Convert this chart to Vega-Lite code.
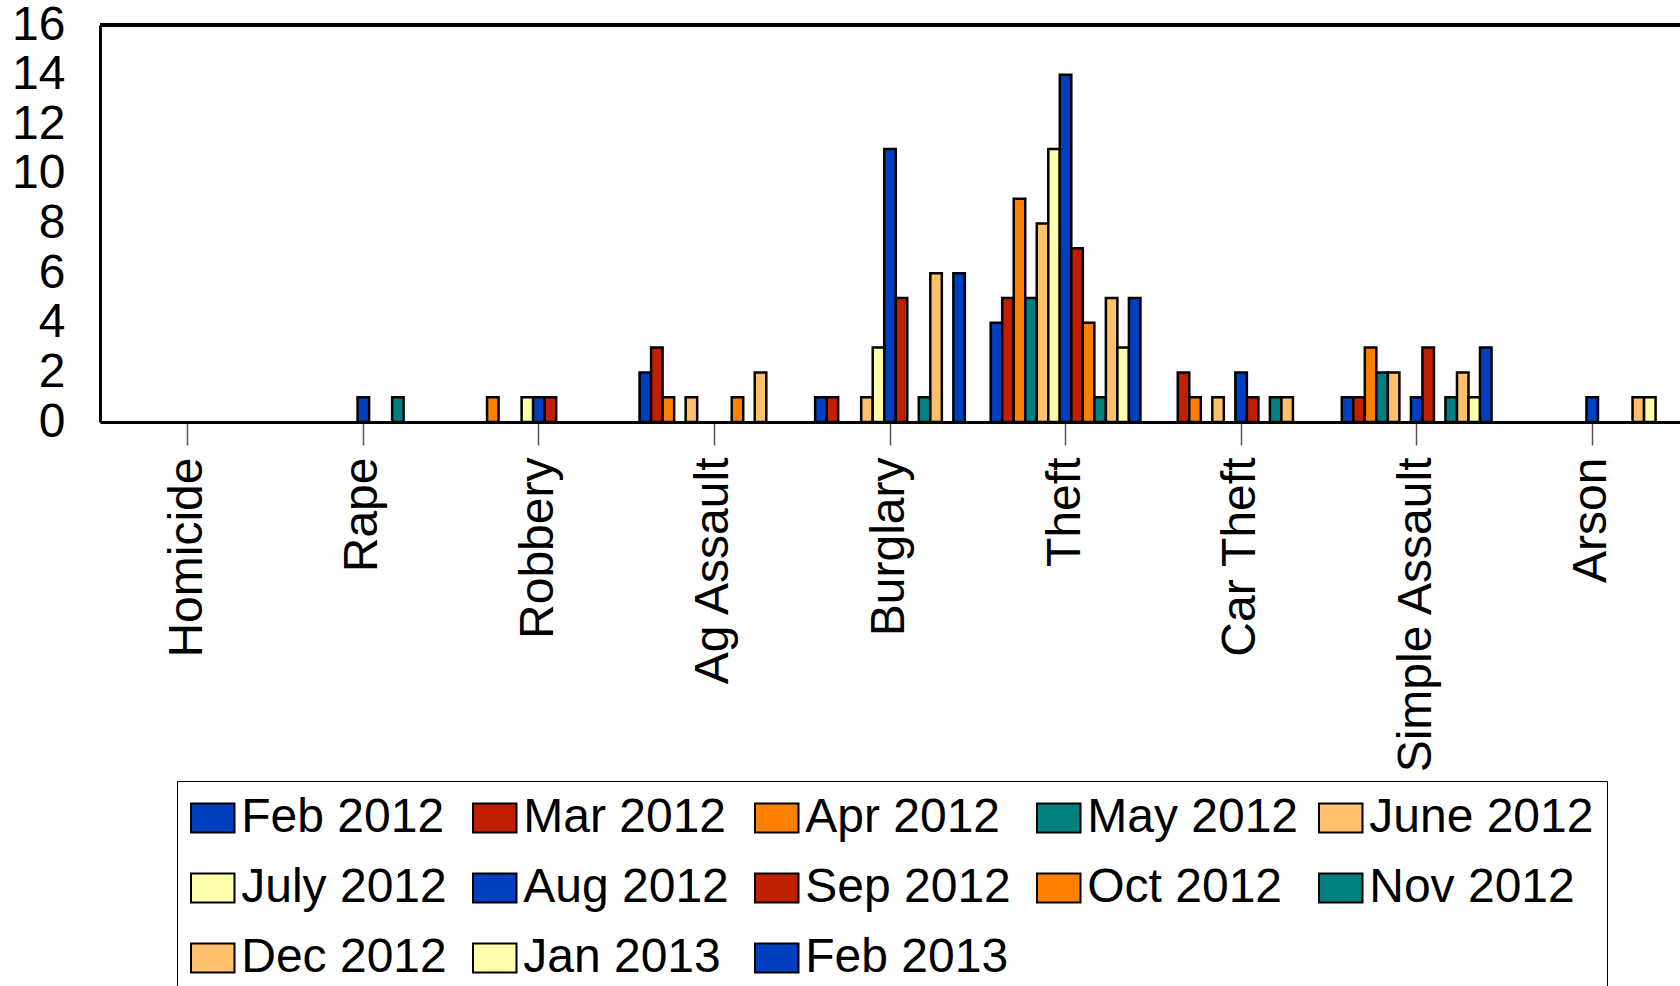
{
  "$schema": "https://vega.github.io/schema/vega-lite/v6.json",
  "width": 1580,
  "height": 397,
  "autosize": {"type": "none"},
  "padding": {"left": 100, "top": 25, "right": 0, "bottom": 564},
  "config": {
    "font": "Liberation Sans",
    "view": {"stroke": null},
    "axis": {"labelColor": "black", "grid": false}
  },
  "data": {
    "values": [
      {"crime": "Rape", "month": "Aug 2012", "count": 1},
      {"crime": "Rape", "month": "Nov 2012", "count": 1},
      {"crime": "Robbery", "month": "Apr 2012", "count": 1},
      {"crime": "Robbery", "month": "July 2012", "count": 1},
      {"crime": "Robbery", "month": "Aug 2012", "count": 1},
      {"crime": "Robbery", "month": "Sep 2012", "count": 1},
      {"crime": "Ag Assault", "month": "Feb 2012", "count": 2},
      {"crime": "Ag Assault", "month": "Mar 2012", "count": 3},
      {"crime": "Ag Assault", "month": "Apr 2012", "count": 1},
      {"crime": "Ag Assault", "month": "June 2012", "count": 1},
      {"crime": "Ag Assault", "month": "Oct 2012", "count": 1},
      {"crime": "Ag Assault", "month": "Dec 2012", "count": 2},
      {"crime": "Burglary", "month": "Feb 2012", "count": 1},
      {"crime": "Burglary", "month": "Mar 2012", "count": 1},
      {"crime": "Burglary", "month": "June 2012", "count": 1},
      {"crime": "Burglary", "month": "July 2012", "count": 3},
      {"crime": "Burglary", "month": "Aug 2012", "count": 11},
      {"crime": "Burglary", "month": "Sep 2012", "count": 5},
      {"crime": "Burglary", "month": "Nov 2012", "count": 1},
      {"crime": "Burglary", "month": "Dec 2012", "count": 6},
      {"crime": "Burglary", "month": "Feb 2013", "count": 6},
      {"crime": "Theft", "month": "Feb 2012", "count": 4},
      {"crime": "Theft", "month": "Mar 2012", "count": 5},
      {"crime": "Theft", "month": "Apr 2012", "count": 9},
      {"crime": "Theft", "month": "May 2012", "count": 5},
      {"crime": "Theft", "month": "June 2012", "count": 8},
      {"crime": "Theft", "month": "July 2012", "count": 11},
      {"crime": "Theft", "month": "Aug 2012", "count": 14},
      {"crime": "Theft", "month": "Sep 2012", "count": 7},
      {"crime": "Theft", "month": "Oct 2012", "count": 4},
      {"crime": "Theft", "month": "Nov 2012", "count": 1},
      {"crime": "Theft", "month": "Dec 2012", "count": 5},
      {"crime": "Theft", "month": "Jan 2013", "count": 3},
      {"crime": "Theft", "month": "Feb 2013", "count": 5},
      {"crime": "Car Theft", "month": "Mar 2012", "count": 2},
      {"crime": "Car Theft", "month": "Apr 2012", "count": 1},
      {"crime": "Car Theft", "month": "June 2012", "count": 1},
      {"crime": "Car Theft", "month": "Aug 2012", "count": 2},
      {"crime": "Car Theft", "month": "Sep 2012", "count": 1},
      {"crime": "Car Theft", "month": "Nov 2012", "count": 1},
      {"crime": "Car Theft", "month": "Dec 2012", "count": 1},
      {"crime": "Simple Assault", "month": "Feb 2012", "count": 1},
      {"crime": "Simple Assault", "month": "Mar 2012", "count": 1},
      {"crime": "Simple Assault", "month": "Apr 2012", "count": 3},
      {"crime": "Simple Assault", "month": "May 2012", "count": 2},
      {"crime": "Simple Assault", "month": "June 2012", "count": 2},
      {"crime": "Simple Assault", "month": "Aug 2012", "count": 1},
      {"crime": "Simple Assault", "month": "Sep 2012", "count": 3},
      {"crime": "Simple Assault", "month": "Nov 2012", "count": 1},
      {"crime": "Simple Assault", "month": "Dec 2012", "count": 2},
      {"crime": "Simple Assault", "month": "Jan 2013", "count": 1},
      {"crime": "Simple Assault", "month": "Feb 2013", "count": 3},
      {"crime": "Arson", "month": "Aug 2012", "count": 1},
      {"crime": "Arson", "month": "Dec 2012", "count": 1},
      {"crime": "Arson", "month": "Jan 2013", "count": 1}
    ]
  },
  "layer": [
    {
      "mark": {"type": "bar", "stroke": "black", "strokeWidth": 2.5},
      "encoding": {
        "x": {
          "field": "crime",
          "type": "nominal",
          "scale": {
            "domain": ["Homicide", "Rape", "Robbery", "Ag Assault", "Burglary", "Theft", "Car Theft", "Simple Assault", "Arson"],
            "paddingInner": 0.147,
            "paddingOuter": 0.0735
          },
          "axis": {
            "title": null,
            "labelAngle": -90,
            "labelFontSize": 48,
            "labelPadding": 12,
            "labelLimit": 0,
            "tickSize": 23,
            "tickColor": "#555555",
            "tickWidth": 1.5,
            "domainColor": "black",
            "domainWidth": 3
          }
        },
        "xOffset": {
          "field": "month",
          "type": "nominal",
          "scale": {
            "domain": ["Feb 2012", "Mar 2012", "Apr 2012", "May 2012", "June 2012", "July 2012", "Aug 2012", "Sep 2012", "Oct 2012", "Nov 2012", "Dec 2012", "Jan 2013", "Feb 2013"],
            "paddingInner": 0,
            "paddingOuter": 0
          }
        },
        "y": {
          "field": "count",
          "type": "quantitative",
          "scale": {"domain": [0, 16], "nice": false},
          "axis": {
            "title": null,
            "values": [0, 2, 4, 6, 8, 10, 12, 14, 16],
            "labelFontSize": 48,
            "ticks": false,
            "tickSize": 0,
            "labelPadding": 35,
            "domainColor": "black",
            "domainWidth": 3
          }
        },
        "color": {
          "field": "month",
          "type": "nominal",
          "scale": {
            "domain": ["Feb 2012", "Mar 2012", "Apr 2012", "May 2012", "June 2012", "July 2012", "Aug 2012", "Sep 2012", "Oct 2012", "Nov 2012", "Dec 2012", "Jan 2013", "Feb 2013"],
            "range": ["#0040C0", "#C02000", "#FF8000", "#008080", "#FFC06C", "#FFFFAA", "#0040C0", "#C02000", "#FF8000", "#008080", "#FFC06C", "#FFFFAA", "#0040C0"]
          },
          "legend": {
            "title": null,
            "orient": "none",
            "direction": "horizontal",
            "legendX": 77,
            "legendY": 756,
            "columns": 5,
            "gridAlign": "all",
            "columnPadding": 3,
            "rowPadding": 22,
            "padding": 13,
            "strokeColor": "black",
            "symbolType": "M-1.5,-1H1.5V1H-1.5Z",
            "symbolSize": 841,
            "symbolStrokeColor": "black",
            "symbolStrokeWidth": 2,
            "symbolFillOpacity": 1,
            "symbolOffset": -1.25,
            "labelOffset": 4.5,
            "labelFontSize": 48,
            "labelColor": "black",
            "labelLimit": 0
          }
        }
      }
    },
    {
      "mark": {"type": "rule", "color": "black", "strokeWidth": 3},
      "encoding": {"y": {"datum": 16}}
    }
  ]
}
